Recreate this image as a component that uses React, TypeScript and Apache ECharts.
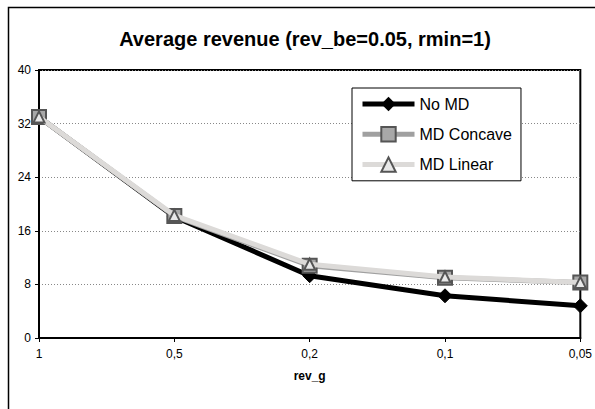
import React, { useEffect, useRef } from "react";
import * as echarts from "echarts";

const categories = ["1", "0,5", "0,2", "0,1", "0,05"];
const noMD = [33, 18.1, 9.3, 6.3, 4.8];
const mdConcave = [33, 18.2, 10.8, 9.0, 8.3];
const mdLinear = [33, 18.3, 11.0, 9.1, 8.3];
const yTicks = { min: 0, max: 40, interval: 8 };

export default function App() {
  const ref = useRef<HTMLDivElement>(null);
  useEffect(() => {
    document.body.style.margin = "0";
    const chart = echarts.init(ref.current!, undefined, { renderer: "svg" });
    const font = "Liberation Sans, Arial, sans-serif";
    chart.setOption({
      animation: false,
      backgroundColor: "#ffffff",
      textStyle: { fontFamily: font },
      title: {
        text: "Average revenue (rev_be=0.05, rmin=1)",
        left: 300,
        textAlign: "center",
        top: 24,
        textStyle: { fontFamily: font, fontSize: 20, fontWeight: "bold", color: "#000" },
      },
      graphic: [
        {
          type: "rect",
          shape: { x: 8.5, y: 7.5, width: 620, height: 440 },
          style: { fill: "none", stroke: "#000", lineWidth: 1.5 },
          silent: true,
          z: 0,
        },
      ],
      grid: { left: 39, right: 12, top: 70, bottom: 71, show: true, borderColor: "#000", borderWidth: 2, backgroundColor: "transparent" },
      legend: {
        orient: "vertical",
        left: 352,
        top: 88,
        width: 168,
        padding: [8, 9, 8, 8],
        itemGap: 14,
        itemWidth: 52,
        itemHeight: 18,
        borderColor: "#000",
        borderWidth: 1,
        backgroundColor: "#fff",
        lineStyle: { width: 5 },
        textStyle: { fontFamily: font, fontSize: 16, color: "#000" },
        data: ["No MD", "MD Concave", "MD Linear"],
      },
      xAxis: {
        type: "category",
        data: categories,
        boundaryGap: false,
        name: "rev_g",
        nameLocation: "middle",
        nameGap: 32,
        nameTextStyle: { fontFamily: font, fontSize: 12, fontWeight: "bold", color: "#000" },
        axisLine: { lineStyle: { color: "#000", width: 2 } },
        axisTick: { show: true, length: 4, lineStyle: { color: "#000" } },
        axisLabel: { fontFamily: font, fontSize: 12, color: "#000", margin: 10 },
        splitLine: { show: false },
      },
      yAxis: {
        type: "value",
        min: yTicks.min,
        max: yTicks.max,
        interval: yTicks.interval,
        axisLine: { show: true, lineStyle: { color: "#000", width: 2 } },
        axisTick: { show: true, length: 4, lineStyle: { color: "#000" } },
        axisLabel: { fontFamily: font, fontSize: 12, color: "#000", margin: 8 },
        splitLine: { show: true, lineStyle: { color: "#888", type: [1, 2], width: 1 } },
      },
      series: [
        {
          name: "No MD",
          type: "line",
          data: noMD,
          symbol: "diamond",
          symbolSize: 14,
          lineStyle: { color: "#000", width: 5 },
          itemStyle: { color: "#000", borderColor: "#000" },
          z: 3,
        },
        {
          name: "MD Concave",
          type: "line",
          data: mdConcave,
          symbol: "rect",
          symbolSize: 14,
          lineStyle: { color: "#a0a0a0", width: 5 },
          itemStyle: { color: "#a8a8a8", borderColor: "#555", borderWidth: 2 },
          z: 4,
        },
        {
          name: "MD Linear",
          type: "line",
          data: mdLinear,
          symbol: "triangle",
          symbolSize: 11,
          lineStyle: { color: "#dcdad8", width: 5 },
          itemStyle: { color: "#e8e8e8", borderColor: "#555", borderWidth: 2 },
          z: 5,
        },
      ],
    });
    return () => chart.dispose();
  }, []);
  return <div ref={ref} style={{ width: 595, height: 409 }} />;
}
